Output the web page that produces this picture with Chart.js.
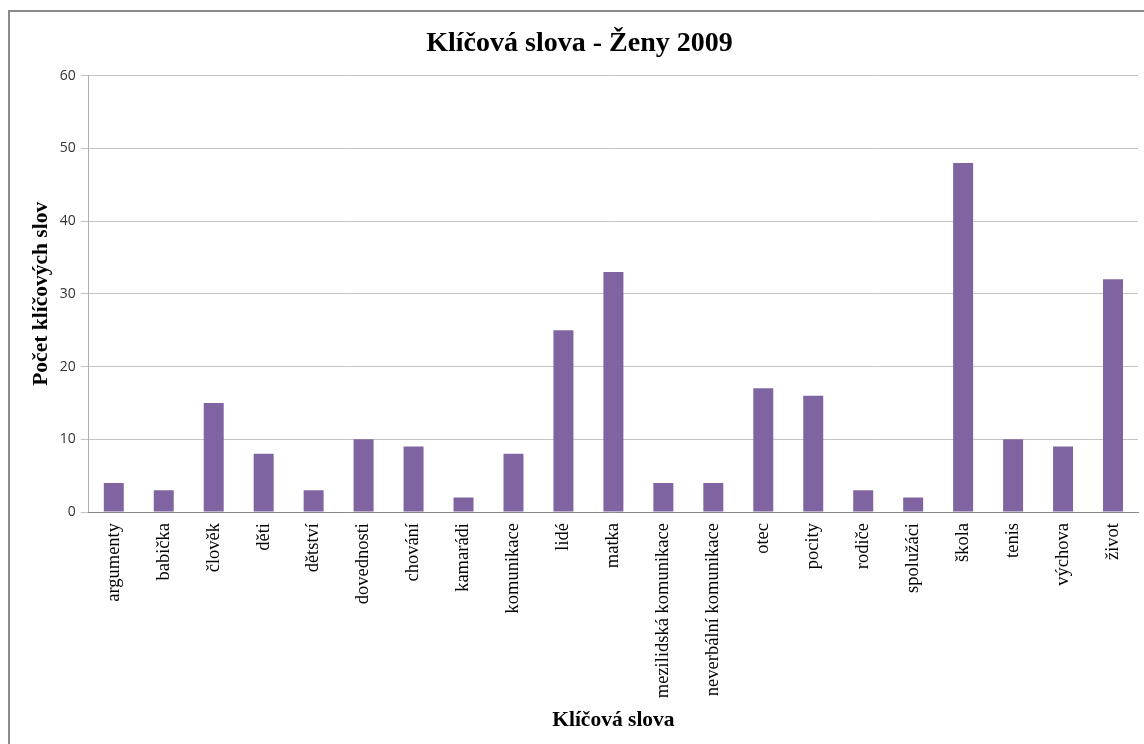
<!DOCTYPE html>
<html>
<head>
<meta charset="utf-8">
<script src="https://cdn.jsdelivr.net/npm/chart.js@4"></script>
<style>
  html, body { margin: 0; padding: 0; background: #fff; overflow: hidden; width: 1144px; height: 744px; }
  #frame { position: absolute; left: 8px; top: 10px; width: 1148px; height: 748px; border: 2px solid #8a8a8a; box-sizing: border-box; background: #fff; }
  #frame canvas { display: block; }
</style>
</head>
<body>
<div id="frame"><canvas id="keywordsChart" width="1144" height="744"></canvas></div>
<script>
// Klíčová slova - Ženy 2009
const categories = ['argumenty', 'babička', 'člověk', 'děti', 'dětství', 'dovednosti', 'chování', 'kamarádi',
  'komunikace', 'lidé', 'matka', 'mezilidská komunikace', 'neverbální komunikace', 'otec', 'pocity',
  'rodiče', 'spolužáci', 'škola', 'tenis', 'výchova', 'život'];
const counts = [4, 3, 15, 8, 3, 10, 9, 2, 8, 25, 33, 4, 4, 17, 16, 3, 2, 48, 10, 9, 32];
const yTicks = [0, 10, 20, 30, 40, 50, 60];

const serif = "'Liberation Serif', 'Times New Roman', serif";

new Chart(document.getElementById('keywordsChart'), {
  type: 'bar',
  data: {
    labels: categories,
    datasets: [{
      label: 'Počet',
      data: counts,
      backgroundColor: '#8064a2',
      barPercentage: 0.4, categoryPercentage: 1
    }]
  },
  options: {
    responsive: false, animation: false,
    layout: { padding: { left: 11, right: 16, top: 0, bottom: 19 } },
    plugins: {
      legend: { display: false },
      tooltip: { enabled: false },
      title: { display: true, text: 'Klíčová slova - Ženy 2009', color: '#000',
        font: { family: serif, size: 28, weight: 'bold' }, padding: { top: 15, bottom: 15 } }
    },
    scales: {
      y: {
        min: 0, max: 60,
        afterBuildTicks: axis => { axis.ticks = yTicks.map(v => ({ value: v })); },
        ticks: { color: '#333', padding: 5, font: { family: 'Open Sans', size: 14 } },
        grid: { color: '#c4c4c4', tickLength: 8 },
        border: { color: '#b0b0b0' },
        title: { display: true, text: 'Počet klíčových slov', color: '#000',
          font: { family: serif, size: 21.5, weight: 'bold' }, padding: { top: 8, bottom: 0 } }
      },
      x: {
        ticks: { color: '#000', minRotation: 90, maxRotation: 90, autoSkip: false, padding: 3,
          font: { family: serif, size: 18.5 } },
        grid: { display: false },
        border: { color: '#8a8a8a' },
        title: { display: true, text: 'Klíčová slova', color: '#000',
          font: { family: serif, size: 21.5, weight: 'bold' }, padding: { top: 6, bottom: 4 } }
      }
    }
  }
});
</script>
</body>
</html>
